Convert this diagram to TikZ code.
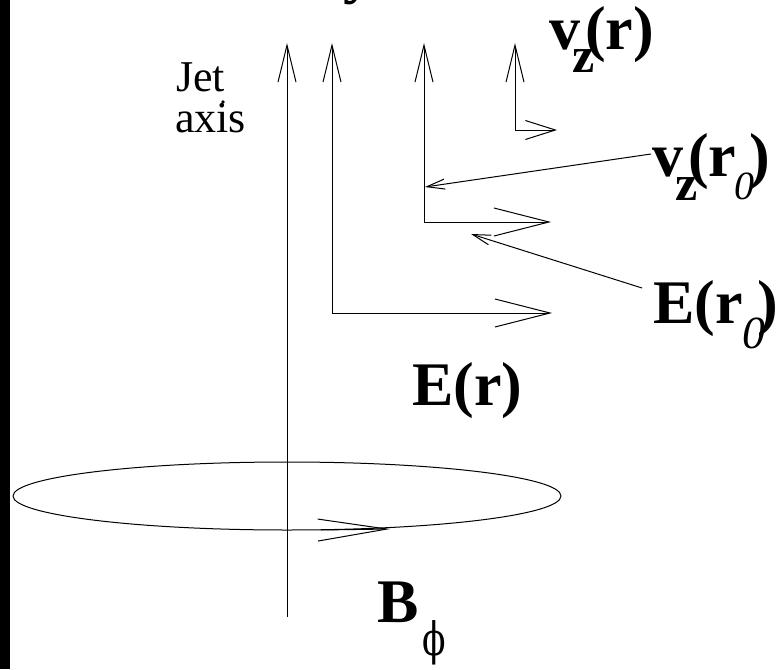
\documentclass[tikz,border=0pt]{standalone}
\usepackage{fontspec}
\setmainfont{Liberation Serif}
\newfontfamily\phfont{DejaVu Serif}
\usetikzlibrary{arrows.meta}
\newcommand{\subz}{\fontsize{50}{50}\selectfont}
\newcommand{\zeroa}{\mdseries\itshape\fontsize{40}{40}\selectfont}
\newcommand{\zerob}{\mdseries\itshape\fontsize{46}{46}\selectfont}
\tikzset{
  vt/.tip={Straight Barb[length=37pt,width=18pt]},
  bh/.tip={Straight Barb[length=55pt,width=28pt]},
  sh/.tip={Straight Barb[length=30pt,width=19pt]},
  eh/.tip={Straight Barb[length=69pt,width=22pt]},
  pt/.tip={Straight Barb[length=18pt,width=10pt]},
}
\begin{document}
\begin{tikzpicture}[x=1pt,y=-1pt,
  ln/.style={line width=1pt, line join=miter},
  lbl/.style={inner sep=0pt, anchor=base west, font=\rmfamily\bfseries\fontsize{62}{62}\selectfont},
  jetlbl/.style={inner sep=0pt, anchor=base west, font=\rmfamily\mdseries\upshape\fontsize{44}{44}\selectfont}]
\useasboundingbox (0,0) rectangle (784,669);
\fill[black] (0,0) rectangle (9.5,669);

% coordinates
\coordinate (axB) at (287,617);
\coordinate (axT) at (287,43);
\coordinate (e1) at (552,313);
\coordinate (c1) at (332,313);
\coordinate (t1) at (332,43);
\coordinate (e2) at (551,222);
\coordinate (c2) at (424,222);
\coordinate (t2) at (424,43);
\coordinate (e3) at (557,130);
\coordinate (c3) at (515,130);
\coordinate (t3) at (515,43);
\coordinate (q1) at (651,154);
\coordinate (p1) at (425,187);
\coordinate (q2) at (642,288);
\coordinate (p2) at (471,234);
\coordinate (ec) at (287,496);
\coordinate (ea) at (321,530);
\coordinate (eb) at (390,529);

% arrows
\draw[ln,-{vt}] (axB) -- (axT);
\draw[ln,{bh}-{vt}] (e1) -- (c1) -- (t1);
\draw[ln,{bh}-{vt}] (e2) -- (c2) -- (t2);
\draw[ln,{sh}-{vt}] (e3) -- (c3) -- (t3);
\draw[ln,-{pt}] (q1) -- (p1);
\draw[ln,-{pt}] (q2) -- (p2);
\draw[ln] (ec) ellipse [x radius=274pt, y radius=34pt];
\draw[ln,-{eh}] (ea) -- (eb);

% labels
\node[jetlbl] (jet) at (176,92) {Jet};
\node[jetlbl] (axis) at (175,132) {axis};
\fill (223,102) circle (1.8pt);
\node[lbl] (ytop) at (343,-8) {y};
\node[lbl] (vzr) at (549,49) {v\makebox[0pt][l]{\kern-8pt\raisebox{-24pt}{\subz z}}\kern5pt(r)};
\node[lbl] (vzr0) at (652,176) {v\makebox[0pt][l]{\kern-8pt\raisebox{-24pt}{\subz z}}\kern5pt(r\kern-2pt\raisebox{-23pt}{\zeroa 0}\kern-5pt)};
\node[lbl] (Er0) at (653,323) {E(r\raisebox{-25pt}{\zerob 0}\kern-8pt)};
\node[lbl] (Er) at (412,405) {E(r)};
\node[lbl] (B) at (377,622) {B};
\node[inner sep=0pt, anchor=base west, font=\phfont\fontsize{46}{46}\selectfont] (phi) at (422,655) {\scalebox{0.75}[1]{ϕ}};
\end{tikzpicture}
\end{document}
